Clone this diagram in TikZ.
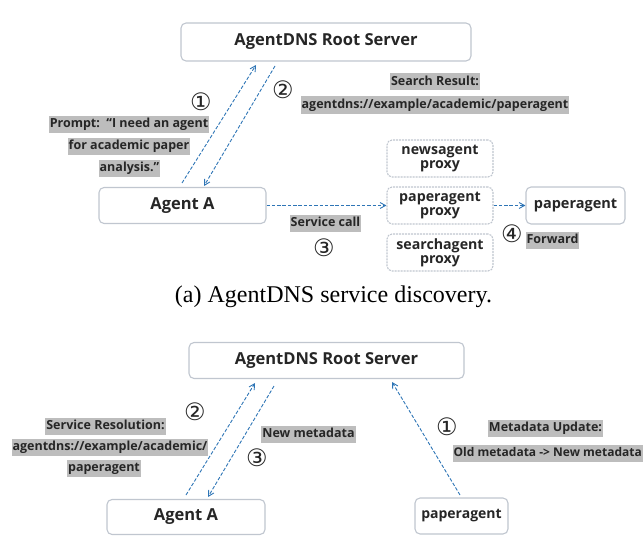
\documentclass[tikz,border=0pt]{standalone}
\usepackage{fontspec}
\setmainfont{Liberation Serif}
\newfontfamily\boxfont{Open Sans}
\newfontfamily\symfont{DejaVu Sans}
\usetikzlibrary{arrows.meta}
\definecolor{arrowblue}{HTML}{2E75B6}
\definecolor{boxline}{HTML}{C0C6CF}
\definecolor{labelgray}{HTML}{BDBDBD}
\definecolor{txt}{HTML}{262626}
\tikzset{
  mainbox/.style={draw=boxline, line width=1.1pt, rounded corners=5pt, fill=white, text=txt,
    font=\boxfont\bfseries\fontsize{16.5}{18}\selectfont, inner sep=0pt},
  proxybox/.style={draw=boxline, dashed, dash pattern=on 2pt off 1pt, line width=1.1pt, rounded corners=5pt,
    fill=white, text=txt, align=center, minimum width=106pt, minimum height=37pt, inner sep=0pt,
    font=\boxfont\bfseries\fontsize{14.2}{16}\selectfont},
  lbl/.style={fill=labelgray, text=txt, inner xsep=1pt, inner ysep=2.5pt,
    font=\boxfont\bfseries\fontsize{12.5}{13}\selectfont, text height=9.5pt, text depth=2.5pt},
  num/.style={text=txt, inner sep=0pt, font=\symfont\fontsize{24}{24}\selectfont},
  flow/.style={draw=arrowblue, line width=0.9pt, dash pattern=on 3.5pt off 1.8pt,
    -{Straight Barb[length=5.5pt,width=6pt,line width=0.9pt]}},
  captext/.style={font=\fontsize{24}{26}\selectfont, text=black, inner sep=0pt}
}
\begin{document}
\begin{tikzpicture}[x=1pt,y=-1pt]
\useasboundingbox (0,0) rectangle (643,551);
% ---------- top (a) ----------
\node[mainbox, minimum width=290pt, minimum height=38pt] (root1) at (326,42) {AgentDNS Root Server};
\node[mainbox, minimum width=167pt, minimum height=36pt] (agentA1) at (182.5,205.5) {Agent A};
\node[proxybox] (news) at (440,158.5) {newsagent\\[-2pt]proxy};
\node[proxybox] (paperproxy) at (440,205.5) {paperagent\\[-2pt]proxy};
\node[proxybox] (search) at (440,252.5) {searchagent\\[-2pt]proxy};
\node[mainbox, minimum width=99pt, minimum height=37pt, font=\boxfont\bfseries\fontsize{14.5}{16}\selectfont] (paper1) at (575.5,205.5) {paperagent};

\coordinate (u1s) at (182,183);
\coordinate (u1e) at (256,65);
\coordinate (d2s) at (275,66);
\coordinate (d2e) at (204,186);
\draw[flow] (u1s) -- (u1e);
\draw[flow] (d2s) -- (d2e);
\draw[flow] (agentA1.east) -- (paperproxy.west);
\draw[flow] (paperproxy.east) -- (paper1.west);

\node[num] (n1a) at (201,102) {①};
\node[num] (n2a) at (283,90) {②};
\node[num] (n3a) at (324,248) {③};
\node[num] (n4a) at (512,234) {④};

\node[lbl] (sr1) at (435,82) {Search Result:};
\node[lbl] (sr2) at (435,105) {agentdns://example/academic/paperagent};
\node[lbl] (pr1) at (129,124) {Prompt:\ \ “I need an agent};
\node[lbl] (pr2) at (129,146) {for academic paper};
\node[lbl] (pr3) at (129.5,168) {analysis.”};
\node[lbl] (sc) at (325.5,223) {Service call};
\node[lbl] (fw) at (552.5,240) {Forward};
\node[captext] (capa) at (333.5,297) {(a) AgentDNS service discovery.};

% ---------- bottom (b) ----------
\node[mainbox, minimum width=275pt, minimum height=36pt] (root2) at (326.5,360.5) {AgentDNS Root Server};
\node[mainbox, minimum width=158pt, minimum height=35pt] (agentA2) at (186,517) {Agent A};
\node[mainbox, minimum width=93pt, minimum height=36pt, font=\boxfont\bfseries\fontsize{14}{16}\selectfont] (paper2) at (461.5,516) {paperagent};

\coordinate (u2s) at (186,495);
\coordinate (u2e) at (255,383);
\coordinate (d3s) at (274,386);
\coordinate (d3e) at (208,497);
\coordinate (u1bs) at (460,495);
\coordinate (u1be) at (392,382);
\draw[flow] (u2s) -- (u2e);
\draw[flow] (d3s) -- (d3e);
\draw[flow] (u1bs) -- (u1be);

\node[num] (n2b) at (195,412) {②};
\node[num] (n3b) at (257,458) {③};
\node[num] (n1b) at (447,427) {①};

\node[lbl] (res1) at (105.5,426) {Service Resolution:};
\node[lbl] (res2) at (110,447) {agentdns://example/academic/};
\node[lbl] (res3) at (104,468) {paperagent};
\node[lbl] (nm) at (308.5,434) {New metadata};
\node[lbl] (mu1) at (545.5,428) {Metadata Update:};
\node[lbl, anchor=east, font=\boxfont\bfseries\fontsize{12}{13}\selectfont] (mu2) at (643,453) {Old metadata -> New metadata};
\end{tikzpicture}
\end{document}
